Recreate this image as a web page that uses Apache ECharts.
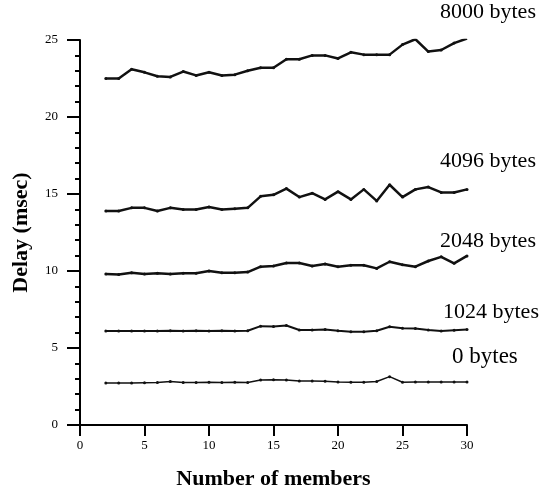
<!DOCTYPE html>
<html>
<head>
<meta charset="utf-8">
<script src="https://cdn.jsdelivr.net/npm/echarts@6/dist/echarts.min.js"></script>
<style>
  html, body { margin: 0; padding: 0; background: #fff; }
  #chart { width: 546px; height: 493px; }
</style>
</head>
<body>
<div id="chart"></div>
<script>
// Group sizes (members) for every measurement
var members = [2,3,4,5,6,7,8,9,10,11,12,13,14,15,16,17,18,19,20,21,22,23,24,25,26,27,28,29,30];

// Delay in msec per message size
var delay8000 = [22.5,22.5,23.1,22.9,22.65,22.6,22.95,22.7,22.9,22.7,22.75,23.0,23.2,23.2,23.75,23.75,24.0,24.0,23.8,24.2,24.05,24.05,24.05,24.7,25.05,24.25,24.35,24.8,25.1];
var delay4096 = [13.9,13.9,14.1,14.1,13.9,14.1,14.0,14.0,14.15,14.0,14.05,14.1,14.85,14.95,15.35,14.8,15.05,14.65,15.15,14.65,15.3,14.55,15.6,14.8,15.3,15.45,15.1,15.1,15.3];
var delay2048 = [9.8,9.78,9.88,9.8,9.85,9.8,9.85,9.85,10.0,9.88,9.88,9.93,10.28,10.32,10.52,10.52,10.32,10.45,10.28,10.37,10.37,10.17,10.6,10.4,10.28,10.65,10.92,10.5,10.98];
var delay1024 = [6.1,6.1,6.1,6.1,6.1,6.12,6.1,6.12,6.1,6.12,6.1,6.12,6.42,6.4,6.46,6.17,6.17,6.2,6.12,6.06,6.06,6.12,6.38,6.28,6.26,6.17,6.1,6.15,6.2];
var delay0    = [2.72,2.72,2.72,2.74,2.76,2.82,2.76,2.76,2.78,2.76,2.78,2.76,2.92,2.94,2.92,2.86,2.86,2.84,2.8,2.78,2.78,2.82,3.14,2.78,2.8,2.8,2.8,2.8,2.8];

var seriesNames = ['8000 bytes','4096 bytes','2048 bytes','1024 bytes','0 bytes'];
var yTicks = [0,5,10,15,20,25];
var xTicks = [0,5,10,15,20,25,30];

var font = '"Liberation Serif", "Times New Roman", serif';

function pairs(vals) {
  return vals.map(function (v, i) { return [members[i], v]; });
}

function lineSeries(name, vals, width, off, size) {
  return {
    name: name,
    type: 'line',
    data: pairs(vals),
    symbol: 'circle',
    symbolSize: 3,
    showSymbol: true,
    itemStyle: { color: '#111' },
    lineStyle: { color: '#111', width: width },
    emphasis: { disabled: true },
    animation: false,
    endLabel: {
      show: true,
      formatter: name,
      distance: 0,
      offset: off,
      color: '#000',
      fontFamily: font,
      fontSize: size,
      align: 'left',
      verticalAlign: 'middle'
    }
  };
}

var chart = echarts.init(document.getElementById('chart'), null, { renderer: 'canvas' });
chart.setOption({
  backgroundColor: '#fff',
  animation: false,
  grid: { left: 80, right: 79, top: 40, bottom: 68, containLabel: false, outerBoundsMode: 'none' },
  xAxis: {
    type: 'value',
    min: 0, max: 30, interval: 5,
    name: 'Number of members',
    nameLocation: 'middle',
    nameGap: 43,
    nameTextStyle: { fontFamily: font, fontWeight: 'bold', fontSize: 22, color: '#000' },
    axisLine: { show: true, onZero: false, lineStyle: { color: '#000', width: 2 } },
    axisTick: {
      show: true, inside: false, length: 11, customValues: xTicks,
      lineStyle: { color: '#000', width: 2 }
    },
    axisLabel: {
      show: true, color: '#000', fontFamily: font, fontSize: 13, margin: 14,
      customValues: xTicks
    },
    splitLine: { show: false }
  },
  yAxis: {
    type: 'value',
    min: 0, max: 25, interval: 5,
    name: 'Delay (msec)',
    nameLocation: 'middle',
    nameGap: 48,
    nameRotate: 90,
    nameTextStyle: { fontFamily: font, fontWeight: 'bold', fontSize: 22, color: '#000' },
    axisLine: { show: true, onZero: false, lineStyle: { color: '#000', width: 2 } },
    axisTick: { show: true, inside: false, length: 13, lineStyle: { color: '#000', width: 2 } },
    minorTick: { show: true, splitNumber: 5, length: 5, lineStyle: { color: '#000', width: 2 } },
    axisLabel: {
      color: '#000', fontFamily: font, fontSize: 13, margin: 22,
      formatter: function (v) { return yTicks.indexOf(v) >= 0 ? String(v) : ''; }
    },
    splitLine: { show: false }
  },
  series: [
    lineSeries(seriesNames[0], delay8000, 2.5, [-27, -26], 22),
    lineSeries(seriesNames[1], delay4096, 2.5, [-27, -28], 22),
    lineSeries(seriesNames[2], delay2048, 2.5, [-27, -15], 22),
    lineSeries(seriesNames[3], delay1024, 2, [-24, -17], 22),
    lineSeries(seriesNames[4], delay0, 1.5, [-15, -25], 23)
  ]
});
</script>
</body>
</html>
